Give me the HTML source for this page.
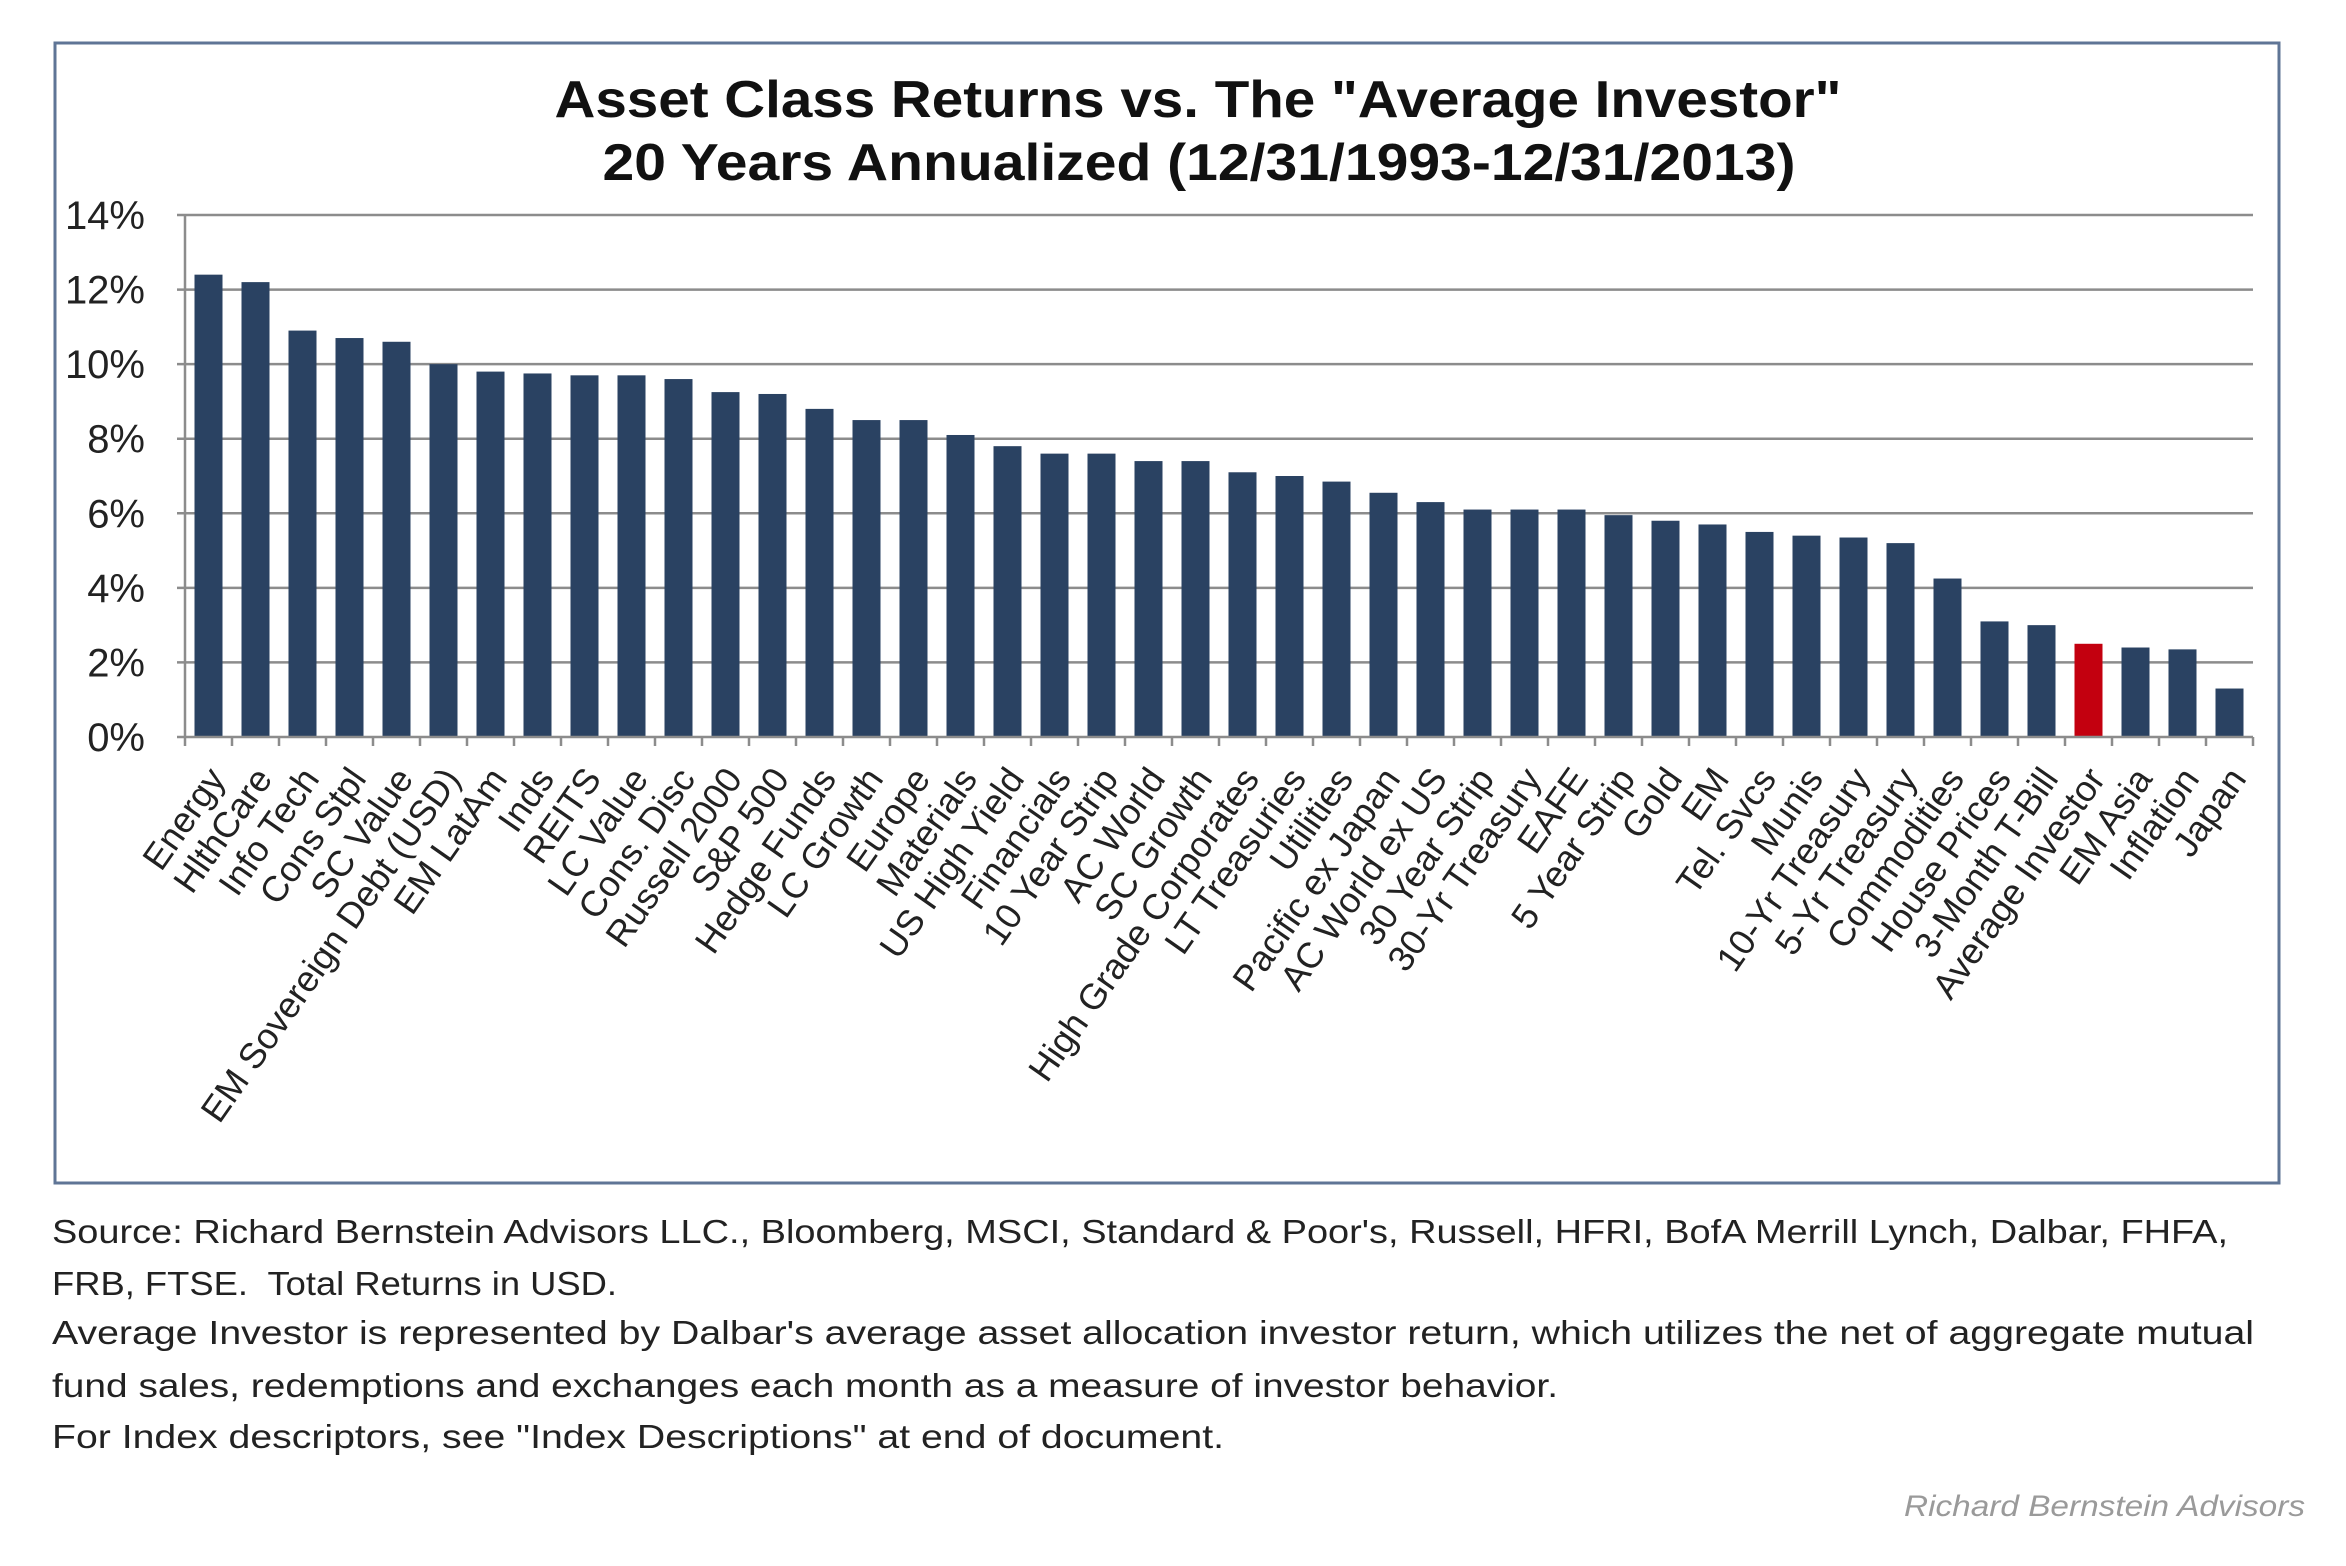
<!DOCTYPE html>
<html><head><meta charset="utf-8"><style>
html,body{margin:0;padding:0;background:#fff;}
svg{display:block;}
text{font-family:"Liberation Sans",sans-serif;}
</style></head><body>
<svg id="chart" width="2346" height="1566" viewBox="0 0 2346 1566" xmlns="http://www.w3.org/2000/svg">
<rect x="55" y="43" width="2224" height="1140" fill="#fff" stroke="#5f7596" stroke-width="3"/>
<text x="1198" y="117" font-size="52" font-weight="bold" text-anchor="middle" fill="#111" textLength="1287" lengthAdjust="spacingAndGlyphs">Asset Class Returns vs. The "Average Investor"</text>
<text x="1199" y="180" font-size="52" font-weight="bold" text-anchor="middle" fill="#111" textLength="1193" lengthAdjust="spacingAndGlyphs">20 Years Annualized (12/31/1993-12/31/2013)</text>
<g id="grid"></g>
<g id="bars"></g>
<g id="axes"></g>
<g id="xlabels"></g>
<g font-size="33" fill="#222">
<text x="52" y="1243" textLength="2176" lengthAdjust="spacingAndGlyphs">Source: Richard Bernstein Advisors LLC., Bloomberg, MSCI, Standard &amp; Poor's, Russell, HFRI, BofA Merrill Lynch, Dalbar, FHFA,</text>
<text x="52" y="1295" textLength="565" lengthAdjust="spacingAndGlyphs" xml:space="preserve">FRB, FTSE.  Total Returns in USD.</text>
<text x="52" y="1344" textLength="2202" lengthAdjust="spacingAndGlyphs">Average Investor is represented by Dalbar's average asset allocation investor return, which utilizes the net of aggregate mutual</text>
<text x="52" y="1397" textLength="1506" lengthAdjust="spacingAndGlyphs">fund sales, redemptions and exchanges each month as a measure of investor behavior.</text>
<text x="52" y="1448" textLength="1172" lengthAdjust="spacingAndGlyphs">For Index descriptors, see "Index Descriptions" at end of document.</text>
</g>
<text x="2305" y="1516" font-size="30" font-style="italic" fill="#9a9a9a" text-anchor="end" textLength="401" lengthAdjust="spacingAndGlyphs">Richard Bernstein Advisors</text>
</svg>
<script>
const categories = ["Energy","HlthCare","Info Tech","Cons Stpl","SC Value","EM Sovereign Debt (USD)","EM LatAm","Inds","REITS","LC Value","Cons. Disc","Russell 2000","S&P 500","Hedge Funds","LC Growth","Europe","Materials","US High Yield","Financials","10 Year Strip","AC World","SC Growth","High Grade Corporates","LT Treasuries","Utilities","Pacific ex Japan","AC World ex US","30 Year Strip","30-Yr Treasury","EAFE","5 Year Strip","Gold","EM","Tel. Svcs","Munis","10-Yr Treasury","5-Yr Treasury","Commodities","House Prices","3-Month T-Bill","Average Investor","EM Asia","Inflation","Japan"];
const returns = [12.4,12.2,10.9,10.7,10.6,10.0,9.8,9.75,9.7,9.7,9.6,9.25,9.2,8.8,8.5,8.5,8.1,7.8,7.6,7.6,7.4,7.4,7.1,7.0,6.85,6.55,6.3,6.1,6.1,6.1,5.95,5.8,5.7,5.5,5.4,5.35,5.2,4.25,3.1,3.0,2.5,2.4,2.35,1.3];
const highlight = ["Average Investor"];
const yTicks = [0,2,4,6,8,10,12,14];
const yTickLabels = ["0%","2%","4%","6%","8%","10%","12%","14%"];

const NS="http://www.w3.org/2000/svg";
const X0=185, X1=2253, Y0=737, Y14=215, YMAX=14;
const band=(X1-X0)/categories.length;
function yScale(v){return Y0-(v/YMAX)*(Y0-Y14);}
function xCenter(i){return X0+band*(i+0.5);}
function mk(tag,attrs,parent){const e=document.createElementNS(NS,tag);for(const k in attrs)e.setAttribute(k,attrs[k]);parent.appendChild(e);return e;}

const grid=document.getElementById('grid'),bars=document.getElementById('bars'),axes=document.getElementById('axes'),xl=document.getElementById('xlabels');
yTicks.forEach((t,i)=>{
  const y=yScale(t);
  if(t>0){const g=mk('line',{x1:X0-8,x2:X1,y1:y,y2:y,stroke:'#8c8c8c','stroke-width':2.5},grid);
  
  }
  const lb=mk('text',{x:145,y:y+14,'font-size':40,'text-anchor':'end',fill:'#222'},axes);
  lb.textContent=yTickLabels[i];
  
  
});
categories.forEach((c,i)=>{
  const cx=xCenter(i),y=yScale(returns[i]);
  const r=mk('rect',{x:cx-14,y:y,width:28,height:Y0-y,fill:highlight.includes(c)?'#c3000f':'#2a4262'},bars);
  
  
  const t=mk('text',{transform:`translate(${cx+18},${Y0+42}) rotate(-55)`,'font-size':36,'text-anchor':'end',fill:'#222'},xl);
  t.textContent=c;
  
  
});
const ya=mk('line',{x1:X0,x2:X0,y1:Y14,y2:Y0,stroke:'#8c8c8c','stroke-width':2.5},axes);


const xa=mk('line',{x1:X0-8,x2:X1,y1:Y0,y2:Y0,stroke:'#8c8c8c','stroke-width':2.5},axes);


for(let i=0;i<=categories.length;i++){
  const x=X0+band*i;
  const tk=mk('line',{x1:x,x2:x,y1:Y0,y2:Y0+9,stroke:'#8c8c8c','stroke-width':2.5},axes);
  
  
}
</script>
</body></html>
